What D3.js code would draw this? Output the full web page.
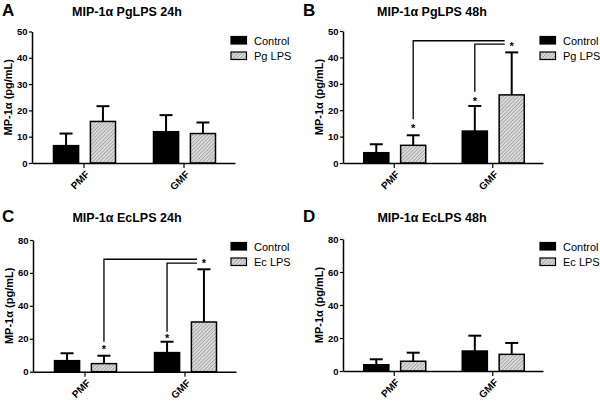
<!DOCTYPE html>
<html>
<head>
<meta charset="utf-8">
<script src="https://cdn.jsdelivr.net/npm/d3@7"></script>
<style>
  body { margin: 0; background: #fff; }
  svg { display: block; font-family: "Liberation Sans", Arial, Helvetica, sans-serif; }
</style>
</head>
<body>
<svg id="chart" width="600" height="401"></svg>
<script>
// Groups on the x axis and tick values
const groups = ["PMF", "GMF"];
const pgTicks = [0, 10, 20, 30, 40, 50];
const ecTicks = [0, 20, 40, 60, 80];
const pgSeries = ["Control", "Pg LPS"];
const ecSeries = ["Control", "Ec LPS"];

// Means and upper SD (pg/mL)
const pg24Control = [6.6, 11.9], pg24ControlSd = [4.6, 6.3];
const pg24Lps = [15.8, 11.2], pg24LpsSd = [5.8, 4.2];

const pg48Control = [3.9, 12.1], pg48ControlSd = [3.2, 9.5];
const pg48Lps = [6.7, 25.8], pg48LpsSd = [3.8, 16.1];

const ec24Control = [6.7, 11.6], ec24ControlSd = [4.5, 6.6];
const ec24Lps = [4.9, 30.2], ec24LpsSd = [4.8, 32.0];

const ec48Control = [3.8, 12.1], ec48ControlSd = [3.3, 9.3];
const ec48Lps = [5.9, 10.1], ec48LpsSd = [5.2, 6.9];

// Significance brackets: start bar [group, series], bottom and top values; all end at GMF/LPS
const pg48Brackets = [[["PMF", 1], 16.6, 46.3], [["GMF", 0], 27, 45]];
const pg48Stars = [["PMF", 1, 13.7], ["GMF", 0, 24.2], ["GMF", 1, 44.7]];
const ec24Brackets = [[["PMF", 1], 18.2, 68.3], [["GMF", 0], 24.3, 65.9]];
const ec24Stars = [["PMF", 1, 14.6], ["GMF", 0, 21.3], ["GMF", 1, 66.8]];

const svg = d3.select("#chart");

// hatch pattern for the LPS bars
const pat = svg.append("defs").append("pattern")
    .attr("id", "hatch")
    .attr("patternUnits", "userSpaceOnUse")
    .attr("width", 2.6).attr("height", 2.6)
    .attr("patternTransform", "rotate(45)");
pat.append("rect").attr("width", 2.6).attr("height", 2.6).attr("fill", "#dcdcdc");
pat.append("line").attr("x1", 0).attr("y1", 0).attr("x2", 0).attr("y2", 2.6)
    .attr("stroke", "#808080").attr("stroke-width", 1.1);

const panels = [
    { letter: "A", title: "MIP-1\u03b1 PgLPS 24h", series: pgSeries, ticks: pgTicks, yMax: 50,
      means: [pg24Control, pg24Lps], sds: [pg24ControlSd, pg24LpsSd], brackets: [], stars: [],
      left: 0, top: 0, x0: 32, x1: 235, yTop: 31.5, yBottom: 163, titleX: 127, legendX: 231 },
    { letter: "B", title: "MIP-1\u03b1 PgLPS 48h", series: pgSeries, ticks: pgTicks, yMax: 50,
      means: [pg48Control, pg48Lps], sds: [pg48ControlSd, pg48LpsSd], brackets: pg48Brackets, stars: pg48Stars,
      left: 301, top: 0, x0: 343, x1: 543, yTop: 31, yBottom: 163, titleX: 432, legendX: 540 },
    { letter: "C", title: "MIP-1\u03b1 EcLPS 24h", series: ecSeries, ticks: ecTicks, yMax: 80,
      means: [ec24Control, ec24Lps], sds: [ec24ControlSd, ec24LpsSd], brackets: ec24Brackets, stars: ec24Stars,
      left: 0, top: 206, x0: 33, x1: 236, yTop: 240, yBottom: 371.7, titleX: 127, legendX: 231 },
    { letter: "D", title: "MIP-1\u03b1 EcLPS 48h", series: ecSeries, ticks: ecTicks, yMax: 80,
      means: [ec48Control, ec48Lps], sds: [ec48ControlSd, ec48LpsSd], brackets: [], stars: [],
      left: 301, top: 206, x0: 343, x1: 543, yTop: 239, yBottom: 371, titleX: 432, legendX: 540 }
];

panels.forEach(drawPanel);

function drawPanel(p) {
    const g = svg.append("g");

    const x = d3.scalePoint().domain(groups).range([p.x0, p.x1]).padding(0.515);
    const xs = d3.scaleBand().domain([0, 1]).range([-30, 32]).paddingInner(0.32);
    const y = d3.scaleLinear().domain([0, p.yMax]).range([p.yBottom, p.yTop]);
    const barX = (grp, s) => x(grp) + xs(s);
    const barMid = (grp, s) => x(grp) + xs(s) + xs.bandwidth() / 2;

    // panel letter and title
    g.append("text").attr("x", p.left + 2).attr("y", p.top + 15.5)
        .style("font-size", "17px").style("font-weight", "bold").text(p.letter);
    g.append("text").attr("x", p.titleX).attr("y", p.top + 15.5)
        .attr("text-anchor", "middle")
        .style("font-size", "12.5px").style("font-weight", "bold").text(p.title);

    // y axis label
    g.append("text")
        .attr("transform", `translate(${p.x0 - 20},${(p.yTop + p.yBottom) / 2}) rotate(-90)`)
        .attr("text-anchor", "middle")
        .style("font-size", "11px").style("font-weight", "bold")
        .text("MP-1\u03b1 (pg/mL)");

    // bars
    p.series.forEach((name, s) => {
        const rows = groups.map((grp, i) => ({ grp, mean: p.means[s][i], sd: p.sds[s][i] }));

        // error bars (upper only)
        g.selectAll(null).data(rows).enter().append("line")
            .attr("x1", d => barMid(d.grp, s)).attr("x2", d => barMid(d.grp, s))
            .attr("y1", d => y(d.mean)).attr("y2", d => y(d.mean + d.sd))
            .attr("stroke", "#000").attr("stroke-width", 2);
        g.selectAll(null).data(rows).enter().append("line")
            .attr("x1", d => barMid(d.grp, s) - 6.5).attr("x2", d => barMid(d.grp, s) + 6.5)
            .attr("y1", d => y(d.mean + d.sd)).attr("y2", d => y(d.mean + d.sd))
            .attr("stroke", "#000").attr("stroke-width", 2);

        g.selectAll(null).data(rows).enter().append("rect")
            .attr("x", d => barX(d.grp, s))
            .attr("y", d => y(d.mean))
            .attr("width", xs.bandwidth())
            .attr("height", d => y(0) - y(d.mean))
            .attr("fill", s === 0 ? "#000" : "url(#hatch)")
            .attr("stroke", "#000").attr("stroke-width", 1.5);
    });

    // axes
    const yAxis = g.append("g")
        .attr("transform", `translate(${p.x0},0)`)
        .call(d3.axisLeft(y).tickValues(p.ticks).tickSize(3).tickSizeOuter(0).tickPadding(1.5));
    yAxis.selectAll("text").style("font-size", "9.5px").style("font-weight", "bold").attr("fill", "#000");

    const xAxis = g.append("g")
        .attr("transform", `translate(0,${p.yBottom})`)
        .call(d3.axisBottom(x).tickSize(5).tickSizeOuter(0));
    xAxis.selectAll("text")
        .attr("text-anchor", "end")
        .attr("transform", "translate(1,7) rotate(-45)")
        .attr("x", 0).attr("y", 0).attr("dy", "0.7em")
        .style("font-size", "10px").style("font-weight", "bold").attr("fill", "#000");

    g.selectAll(".domain").attr("stroke", "#000").attr("stroke-width", 1.5);
    g.selectAll(".tick line").attr("stroke", "#000").attr("stroke-width", 1.2);

    // significance brackets
    const endX = barMid("GMF", 1) - 7;
    p.brackets.forEach(b => {
        const sx = barMid(b[0][0], b[0][1]);
        g.append("path")
            .attr("d", `M${sx},${y(b[1])}V${y(b[2])}H${endX}`)
            .attr("fill", "none").attr("stroke", "#000").attr("stroke-width", 1.3);
    });
    p.stars.forEach(st => {
        g.append("text")
            .attr("x", barMid(st[0], st[1])).attr("y", y(st[2]) + 5.5)
            .attr("text-anchor", "middle")
            .style("font-size", "11px").style("font-weight", "bold")
            .text("*");
    });

    // legend
    p.series.forEach((name, s) => {
        const ly = p.top + 36.5 + s * 15.5;
        g.append("rect").attr("x", p.legendX).attr("y", ly)
            .attr("width", 15.5).attr("height", 7.5)
            .attr("fill", s === 0 ? "#000" : "url(#hatch)")
            .attr("stroke", "#000").attr("stroke-width", 1.2);
        g.append("text").attr("x", p.legendX + 23).attr("y", ly + 8)
            .style("font-size", "11px").text(name);
    });
}
</script>
</body>
</html>
